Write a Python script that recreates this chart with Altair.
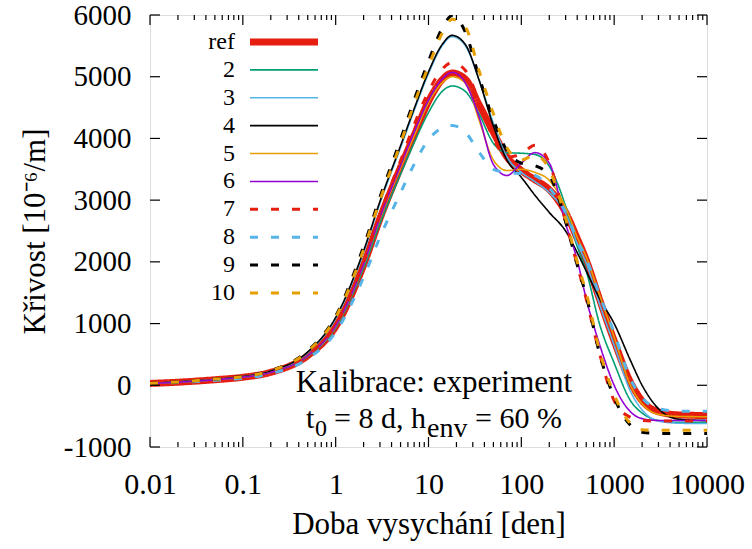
import json
import altair as alt
import pandas as pd

# ---------------- data ----------------
days = [0.01, 0.02, 0.05, 0.1, 0.2, 0.5, 1, 2, 3, 5, 7, 10, 14, 18, 25, 35, 50, 70,
        100, 140, 200, 300, 400, 500, 700, 1000, 1500, 2000, 3000, 5000, 10000]

series_names = ["ref", "2", "3", "4", "5", "6", "7", "8", "9", "10"]

s_ref = [30, 50, 90, 130, 210, 480, 950, 1950, 2700, 3530, 4050, 4600, 4950, 5060, 4960, 4550, 4100, 3700,
         3480, 3330, 3170, 2800, 2380, 2030, 1380, 720, 50, -250, -430, -480, -490]
s2 = [30, 50, 90, 130, 210, 470, 930, 1900, 2620, 3420, 3930, 4420, 4760, 4850, 4760, 4400, 3920, 3770,
      3760, 3740, 3550, 2900, 2250, 1850, 980, 360, -250, -450, -570, -600, -600]
s3 = [30, 55, 95, 140, 230, 530, 1080, 2150, 2950, 3850, 4450, 5050, 5500, 5650, 5500, 4950, 4250, 3700,
      3450, 3300, 3120, 2780, 2300, 1980, 1300, 650, -100, -400, -580, -615, -620]
s4 = [30, 55, 95, 140, 230, 540, 1100, 2180, 2980, 3880, 4480, 5080, 5520, 5670, 5520, 4950, 4200, 3650,
      3370, 3080, 2800, 2500, 2150, 1850, 1400, 1000, 400, 0, -380, -550, -570]
s5 = [30, 50, 90, 130, 210, 480, 950, 1950, 2700, 3520, 4040, 4580, 4900, 5000, 4900, 4300, 3650, 3480,
      3500, 3450, 3320, 2880, 2400, 2080, 1450, 780, 0, -300, -470, -505, -510]
s6 = [30, 50, 90, 130, 210, 480, 960, 1960, 2720, 3560, 4100, 4620, 4960, 5070, 4900, 4350, 3580, 3400,
      3600, 3770, 3600, 2620, 2030, 1400, 650, 0, -430, -540, -570, -570, -570]
s7 = [30, 50, 90, 130, 210, 490, 980, 2000, 2780, 3640, 4220, 4760, 5120, 5230, 5100, 4600, 4000, 3700,
      3750, 3890, 3600, 2650, 1950, 1400, 500, -250, -520, -570, -580, -580, -580]
s8 = [30, 45, 80, 115, 190, 430, 860, 1750, 2400, 3120, 3580, 3980, 4170, 4210, 4100, 3780, 3500, 3450,
      3430, 3400, 3200, 2800, 2350, 2050, 1450, 850, 100, -200, -380, -420, -420]
s9 = [30, 55, 100, 145, 240, 560, 1120, 2250, 3050, 3980, 4620, 5250, 5780, 5990, 5720, 5000, 4300, 3800,
      3600, 3560, 3400, 2650, 1950, 1450, 500, -200, -650, -760, -780, -780, -780]
s10 = [30, 55, 100, 140, 235, 550, 1100, 2200, 3000, 3920, 4560, 5170, 5700, 5930, 5800, 5100, 4400, 3850,
       3650, 3730, 3500, 2700, 2000, 1500, 550, -150, -620, -720, -730, -730, -730]

all_series = [s_ref, s2, s3, s4, s5, s6, s7, s8, s9, s10]

x_ticks = [0.01, 0.1, 1, 10, 100, 1000, 10000]
y_ticks = [-1000, 0, 1000, 2000, 3000, 4000, 5000, 6000]

x_title = "Doba vysychání [den]"
y_title = "Křivost [10⁻⁶/m]"
note_line1 = "Kalibrace: experiment"

# ---------------- styles ----------------
colors = ["#e51e10", "#009e73", "#56b4e9", "#000000", "#e69f00",
          "#9400d3", "#e51e10", "#56b4e9", "#000000", "#e69f00"]
dashes = [[1, 0]] * 6 + [[8, 13]] * 4
FONT = "Liberation Serif"
W, H = 557, 432

rows = []
for name, vals in zip(series_names, all_series):
    for d, v in zip(days, vals):
        rows.append({"series": name, "day": d, "k": v})
df = pd.DataFrame(rows)

minor_x = [m * 10 ** e for e in range(-2, 4) for m in range(2, 10)]

xscale = alt.Scale(type="log", domain=[0.01, 10000], nice=False)
yscale = alt.Scale(domain=[-1000, 6000], nice=False, zero=False)
cscale = alt.Scale(domain=series_names, range=colors)
dscale = alt.Scale(domain=series_names, range=dashes)

xaxis = alt.Axis(values=x_ticks, format=".2~f", labelFlush=False, ticks=False, tickSize=0,
                 domain=False, grid=False, labelFont=FONT, labelFontSize=30, labelColor="black",
                 labelPadding=22, title=x_title, titleFont=FONT, titleFontSize=31,
                 titleFontWeight="normal", titleColor="black", titlePadding=10)
yaxis = alt.Axis(values=y_ticks, labelExpr="datum.value + ''", ticks=False, tickSize=0,
                 domain=False, grid=False, labelFont=FONT, labelFontSize=29, labelColor="black",
                 labelPadding=19, labelFlush=False, title=y_title, titleFont=FONT, titleFontSize=31,
                 titleFontWeight="normal", titleColor="black", titlePadding=12)

X = alt.X("day:Q", scale=xscale, axis=xaxis)
Y = alt.Y("k:Q", scale=yscale, axis=yaxis)


def lines(names, width):
    return alt.Chart(df).transform_filter(
        alt.FieldOneOfPredicate(field="series", oneOf=names)
    ).mark_line(strokeWidth=width, interpolate="monotone", clip=True).encode(
        x=X, y=Y,
        color=alt.Color("series:N", scale=cscale, legend=None),
        strokeDash=alt.StrokeDash("series:N", scale=dscale, legend=None),
        detail="series:N",
    )


ref_layer = lines(["ref"], 7)
solid_layer = lines(["2", "3", "4", "5", "6"], 1.6)
dash_layer = lines(["7", "8", "9", "10"], 3)

# inward ticks on all four sides
xt_major = pd.DataFrame({"day": x_ticks})
xt_minor = pd.DataFrame({"day": minor_x})
yt = pd.DataFrame({"k": y_ticks})


def xtick(data, y0, y1):
    return alt.Chart(data).mark_rule(color="black", strokeWidth=1.2).encode(
        x=X, y=alt.value(y0), y2=alt.value(y1))


def ytick(x0, x1):
    return alt.Chart(yt).mark_rule(color="black", strokeWidth=1.2).encode(
        y=Y, x=alt.value(x0), x2=alt.value(x1))


ticks = [
    xtick(xt_major, H, H - 10), xtick(xt_major, 0, 10),
    xtick(xt_minor, H, H - 5), xtick(xt_minor, 0, 5),
    ytick(0, 10), ytick(W, W - 10),
]

main = alt.layer(ref_layer, solid_layer, dash_layer, *ticks)

# legend (labels left of the line samples), rows placed by the entry's index
leg_df = pd.DataFrame({"series": series_names})
idx_expr = "indexof(" + json.dumps(series_names) + ", datum.series)"
LY = alt.Y("idx:Q", scale=alt.Scale(domain=[0, len(series_names) - 1], range=[27, 278], zero=False, nice=False),
           axis=None)


def leg_base():
    return alt.Chart(leg_df).transform_calculate(idx=idx_expr)


def leg_lines(names, width):
    return leg_base().transform_filter(
        alt.FieldOneOfPredicate(field="series", oneOf=names)
    ).mark_rule(strokeWidth=width).encode(
        y=LY, x=alt.value(100), x2=alt.value(168),
        color=alt.Color("series:N", scale=cscale, legend=None),
        strokeDash=alt.StrokeDash("series:N", scale=dscale, legend=None),
    )


leg_text = leg_base().mark_text(align="right", baseline="middle", font=FONT,
                                fontSize=24, color="black").encode(
    y=LY, x=alt.value(85), text="series:N")

legend = alt.layer(leg_lines(["ref"], 7), leg_lines(["2", "3", "4", "5", "6"], 1.6),
                   leg_lines(["7", "8", "9", "10"], 3), leg_text)

# annotation
one = pd.DataFrame({"a": [0]})


def txt(s, x, y, size, align="left"):
    return alt.Chart(one).mark_text(text=s, align=align, baseline="alphabetic", font=FONT,
                                    fontSize=size, color="black").encode(
        x=alt.value(x), y=alt.value(y))


notes = alt.layer(
    txt(note_line1, 284, 377, 31, "center"),
    txt("t", 156, 413, 30),
    txt("0", 165, 421, 24),
    txt("= 8 d, h", 184, 413, 30),
    txt("env", 277, 422, 28),
    txt("= 60 %", 325, 413, 30),
)

chart = alt.layer(main, legend, notes).resolve_scale(y="independent").properties(
    width=W, height=H,
    autosize=alt.AutoSizeParams(type="none"),
    padding={"left": 150, "top": 15, "right": 45, "bottom": 102},
).configure_view(stroke="black", strokeWidth=1.5).configure(background="white")

chart.save("out.html", embed_options={"renderer": "svg", "actions": False})
